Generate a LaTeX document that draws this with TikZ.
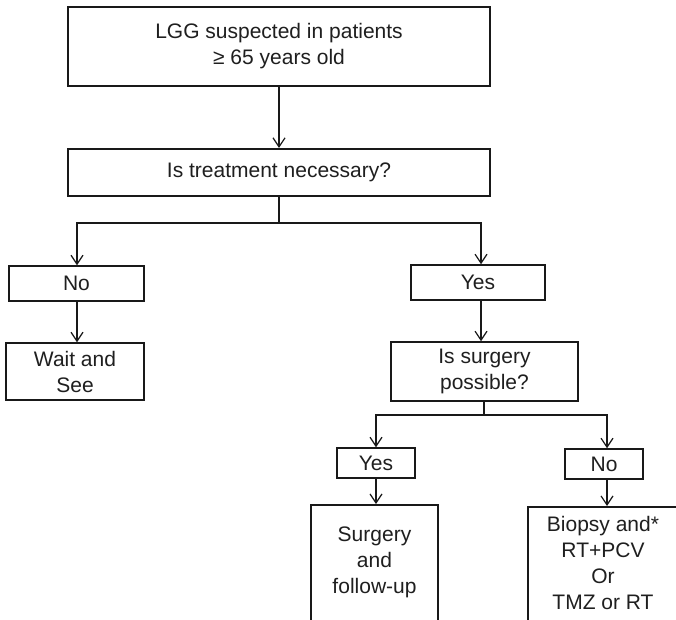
\documentclass[tikz,border=0pt]{standalone}
\usepackage{fontspec}
\setmainfont{Liberation Sans}
\usetikzlibrary{arrows.meta}
\begin{document}
\begin{tikzpicture}[x=1pt,y=-1pt,
  every node/.style={font=\fontsize{21}{26}\selectfont, text=black!88, align=center, inner sep=0pt},
  bigbox/.style={draw=black!90, line width=2.2pt},
  smallbox/.style={draw=black!90, line width=1.5pt},
  link/.style={draw=black!90, line width=1.4pt},
  arr/.style={link, -{Straight Barb[length=9pt,width=12pt,line width=1.2pt]}},
]
\clip (0,0) rectangle (676,619);
\fill[white] (0,0) rectangle (676,619);

\node[bigbox, minimum width=422pt, minimum height=79pt] (top) at (279,46.5)
  {LGG suspected in patients\\≥ 65 years old};
\node[bigbox, minimum width=422pt, minimum height=47pt] (q1) at (279,172.5)
  {Is treatment necessary?};
\node[smallbox, minimum width=135pt, minimum height=35pt] (no1) at (76.5,283.5) {No};
\node[smallbox, minimum width=138pt, minimum height=57pt] (wait) at (75,371.5) {Wait and\\See};
\node[smallbox, minimum width=134pt, minimum height=35pt] (yes1) at (478,282.5) {Yes};
\node[smallbox, minimum width=187pt, minimum height=59pt] (q2) at (484.5,371.5) {Is surgery\\possible?};
\node[smallbox, minimum width=78pt, minimum height=30pt] (yes2) at (376,463) {Yes};
\node[smallbox, minimum width=78pt, minimum height=30pt] (no2) at (604,464) {No};
\node[smallbox, minimum width=127pt, minimum height=160pt, anchor=north] (surg) at (374.5,504) {};
\node[anchor=north] (surgtxt) at (374.5,527) {Surgery\\and\\follow-up};
\node[smallbox, minimum width=200pt, minimum height=160pt, anchor=north west] (bio) at (527,506) {};
\node[anchor=north] (biotxt) at (603,516) {Biopsy and*\\RT+PCV\\Or\\TMZ or RT};

\coordinate (j1) at (279,223);
\coordinate (j2) at (484,415);

\draw[arr] (top.south) -- (q1.north);
\draw[link] (q1.south) -- (j1);
\draw[arr] (j1) -| ([xshift=0.5pt]no1.north);
\draw[arr] (j1) -| ([xshift=3pt]yes1.north);
\draw[arr] ([xshift=0.5pt]no1.south) -- ([xshift=0.5pt]no1.south |- wait.north);
\draw[arr] ([xshift=3pt]yes1.south) -- ([xshift=3pt]yes1.south |- q2.north);
\draw[link] (q2.south -| j2) -- (j2);
\draw[arr] (j2) -| (yes2.north);
\draw[arr] (j2) -| ([xshift=3pt]no2.north);
\draw[arr] (yes2.south) -- (yes2.south |- surg.north);
\draw[arr] ([xshift=3pt]no2.south) -- ([xshift=3pt]no2.south |- bio.north);
\end{tikzpicture}
\end{document}
